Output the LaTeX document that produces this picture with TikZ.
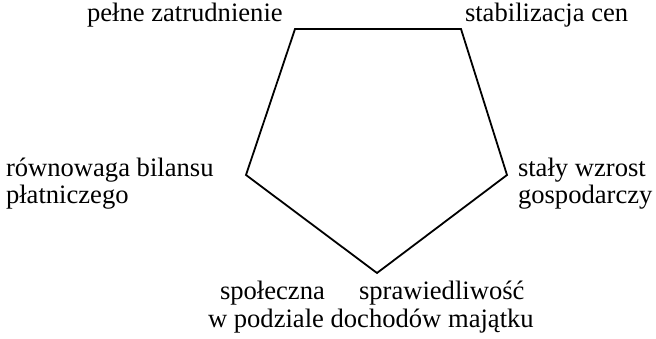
\documentclass[tikz,border=0pt]{standalone}
\usepackage{fontspec}
\setmainfont{Liberation Serif}
\begin{document}
\begin{tikzpicture}[x=1pt,y=-1pt,
  lbl/.style={inner sep=0pt,outer sep=0pt,anchor=base west,font=\fontsize{26.6}{27}\selectfont},
  edge/.style={line width=1.8pt,line join=miter}]
\useasboundingbox (0,0) rectangle (656,339);
\coordinate (tl) at (295,29);
\coordinate (tr) at (461,29);
\coordinate (r) at (507,175);
\coordinate (b) at (377,273);
\coordinate (l) at (246,175);
\draw[edge] (tl) -- (tr) -- (r) -- (b) -- (l) -- cycle;
\node[lbl] (t1) at (87,22) {pełne zatrudnienie};
\node[lbl] (t2) at (465,22) {stabilizacja cen};
\node[lbl] (t3) at (6,177) {równowaga bilansu};
\node[lbl] (t3b) at (6,204) {płatniczego};
\node[lbl] (t4) at (518,177) {stały wzrost};
\node[lbl] (t4b) at (518,204) {gospodarczy};
\node[lbl] (t5) at (220,299) {społeczna};
\node[lbl] (t6) at (359,299) {sprawiedliwość};
\node[lbl] (t7) at (208,327) {w podziale dochodów majątku};
\end{tikzpicture}
\end{document}
